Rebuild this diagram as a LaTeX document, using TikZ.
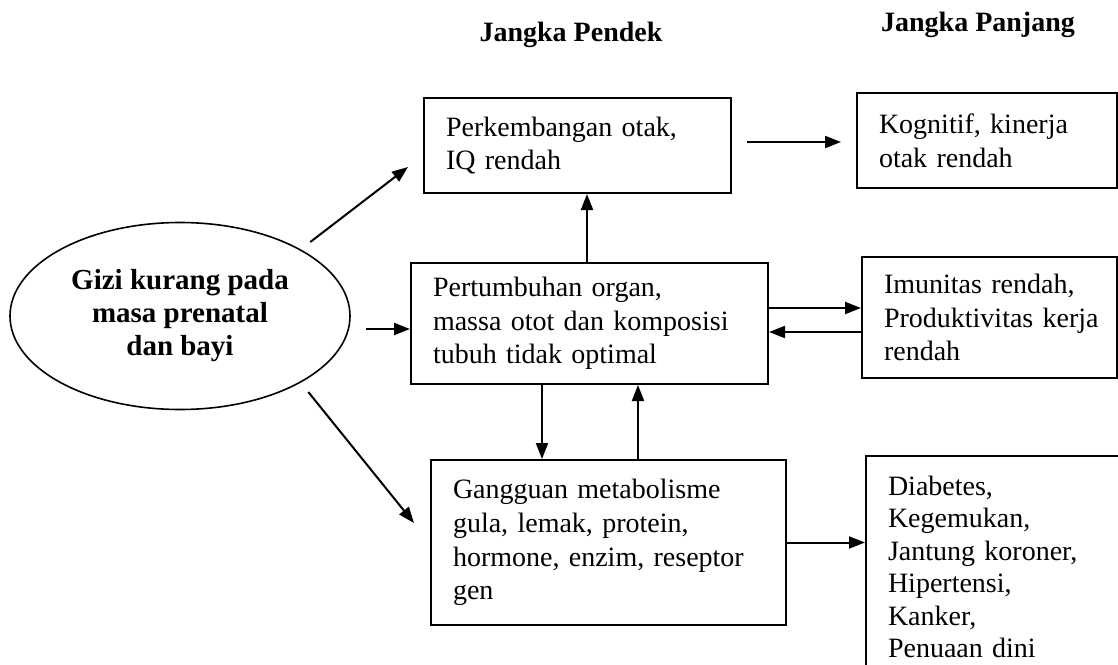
\documentclass[tikz,border=0pt]{standalone}
\usepackage{fontspec}
\setmainfont{Liberation Serif}
\usetikzlibrary{arrows.meta,shapes.geometric}

\begin{document}
\begin{tikzpicture}[x=0.5pt,y=-0.5pt,
   box/.style={draw,line width=1pt,rectangle,align=left,inner xsep=11pt,
      font=\fontsize{14}{16.8}\selectfont},
   head/.style={font=\fontsize{14}{16.8}\selectfont\bfseries},
   arr/.style={-{Triangle[length=8pt,width=6pt]},line width=1pt}]
   \clip (0,0) rectangle (1118,664);
   \useasboundingbox (0,0) rectangle (1118,664);
   \node (pendek)  at (571,35)  [head] {Jangka Pendek};
   \node (panjang) at (978,25)  [head] {Jangka Panjang};
   \node (gizi) at (180,316) [ellipse,draw,line width=0.8pt,minimum width=170pt,minimum height=93.5pt,
      inner sep=0pt,align=center,font=\fontsize{14.5}{16.5}\selectfont\bfseries]
      {Gizi kurang pada\\masa prenatal\\dan bayi};
   \node (otak)  at (577.5,145.5) [box,minimum width=152.5pt,minimum height=47.5pt,text width=131.5pt]
      {Perkembangan otak,\\IQ rendah};
   \node (organ) at (589.5,323.5) [box,minimum width=177.5pt,minimum height=60.5pt,text width=156.5pt]
      {Pertumbuhan organ,\\massa otot dan komposisi\\tubuh tidak optimal};
   \node (metab) at (608.5,542.5) [box,minimum width=176.5pt,minimum height=82.5pt,text width=155.5pt]
      {Gangguan metabolisme\\gula, lemak, protein,\\hormone, enzim, reseptor\\gen};
   \node (kognitif) at (987,140.5) [box,minimum width=130pt,minimum height=47.5pt,text width=108pt]
      {Kognitif, kinerja\\otak rendah};
   \node (imunitas) at (989.5,317.5) [box,minimum width=127.5pt,minimum height=60.5pt,text width=105.5pt]
      {Imunitas rendah,\\Produktivitas~kerja\\rendah};
   \node (penyakit) at (865,455) [box,anchor=north west,inner ysep=10pt,text width=120pt,
      font=\fontsize{14}{16.2}\selectfont]
      {Diabetes,\\Kegemukan,\\Jantung koroner,\\Hipertensi,\\Kanker,\\Penuaan dini};
   % dari gizi kurang
   \draw[arr,shorten <=6pt] (gizi.north east) to ([xshift=-7.5pt,yshift=-10.75pt]otak.west);
   \draw[arr] ([xshift=7.5pt,yshift=-6.5pt]gizi.east) to ([yshift=-2.75pt]organ.west);
   \draw[arr,shorten <=6pt] (gizi.south east) to ([xshift=-8pt,yshift=9.75pt]metab.west);
   % antar jangka pendek
   \draw[arr] ([xshift=-1.25pt]organ.north) to ([xshift=-1.25pt]organ.north |- otak.south);
   \draw[arr] ([xshift=-23.75pt]organ.south) to ([xshift=-23.75pt]organ.south |- metab.north);
   \draw[arr] ([xshift=24.25pt]organ.south |- metab.north) to ([xshift=24.25pt]organ.south);
   % ke jangka panjang
   \draw[arr] ([xshift=7.5pt,yshift=1.75pt]otak.east) to ([xshift=-7.5pt,yshift=-0.75pt]kognitif.west);
   \draw[arr] ([yshift=7.75pt]organ.east) to ([yshift=4.75pt]imunitas.west);
   \draw[arr] ([yshift=-7.25pt]imunitas.west) to ([yshift=-4.25pt]organ.east);
   \draw[arr] (metab.east) to (metab.east -| penyakit.west);
\end{tikzpicture}
\end{document}
